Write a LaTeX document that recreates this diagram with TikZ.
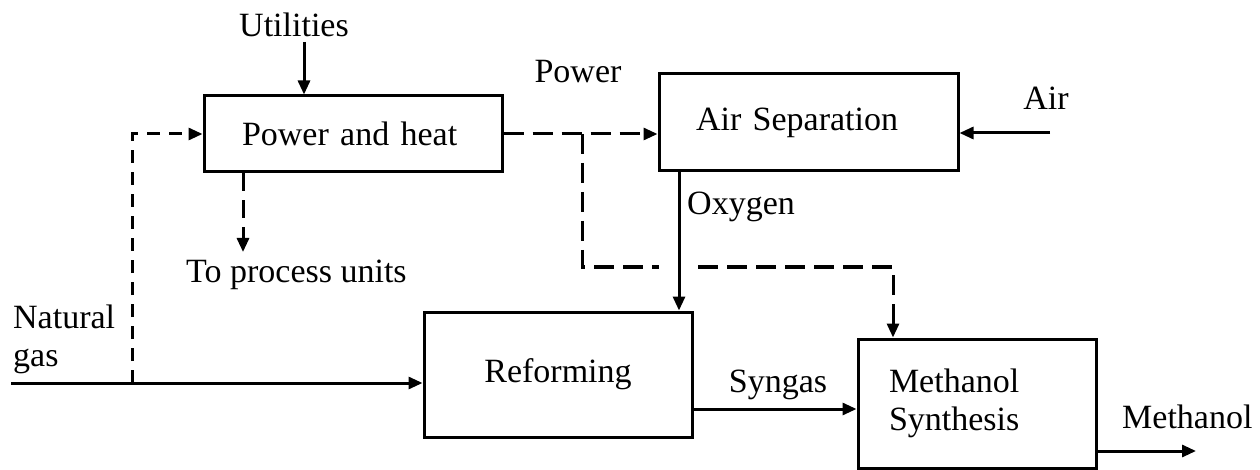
\documentclass[tikz,border=0pt]{standalone}
\usepackage{fontspec}
\setmainfont{Liberation Serif}
\usepackage{tikz}
\usetikzlibrary{arrows.meta,positioning,calc}
\definecolor{ink}{HTML}{000000}
\tikzset{
  unitbox/.style={
    rectangle, draw=ink, line width=3pt,
    inner sep=0pt, align=center,
    font=\fontsize{34}{38}\selectfont
  },
  streamlabel/.style={
    inner sep=0pt, text=ink,
    font=\fontsize{34}{38}\selectfont
  },
  flowarrow/.style={
    -{Triangle[length=14pt,width=12pt]}, line width=3pt, color=ink
  },
  energyarrow/.style={
    -{Triangle[length=14pt,width=12pt]}, line width=3pt, color=ink,
    dash pattern=on #1 off 9pt
  },
  energyarrow/.default=20pt,
}

\begin{document}
\begin{tikzpicture}[x=1pt, y=-1pt]
\useasboundingbox (0,0) rectangle (1260,470);

% ── process units ──
\node[unitbox, minimum width=298pt, minimum height=76pt,
      text width=222pt, align=left] (ph) at (353,134) {Power and heat};
\node[unitbox, minimum width=299pt, minimum height=97pt,
      text width=225pt, align=left] (asu) at (808.5,122.5) {Air Separation};
\node[unitbox, minimum width=268pt, minimum height=125pt] (ref) at (558,374.5) {Reforming};
\node[unitbox, minimum width=238pt, minimum height=129pt,
      text width=176pt, align=left] (meoh) at (977,403.5) {Methanol\\Synthesis};

% ── stream labels ──
\node[streamlabel, anchor=base] (utillbl) at (294,37) {Utilities};
\node[streamlabel, anchor=base] (powlbl) at (578,83) {Power};
\node[streamlabel, anchor=base] (airlbl) at (1046,110) {Air};
\node[streamlabel, anchor=base west] (oxlbl) at (687,215) {Oxygen};
\node[streamlabel, anchor=base west] (proclbl) at (186,282) {To process units};
\node[streamlabel, anchor=base west, align=left] (nglbl) at (13,366) {Natural\\gas};
\node[streamlabel, anchor=base] (synlbl) at (778,392) {Syngas};
\node[streamlabel, anchor=base west] (outlbl) at (1122,428) {Methanol};

% free ends and bends
\coordinate (utilin) at (304,42);
\coordinate (ngin) at (11,383);
\coordinate (fuelsplit) at (132,383);
\coordinate (heatout) at (243,252);
\coordinate (powsplit) at (582,134);
\coordinate (powbend) at (582,267);
\coordinate (airin) at (1050,133);
\coordinate (oxtop) at ([xshift=-129.5pt]asu.south);
\coordinate (meohin) at ([xshift=-84pt]meoh.north);
\coordinate (meohout) at (1196,451);

% ── material streams ──
\draw[flowarrow] (utilin) -- (utilin |- ph.north);
\draw[flowarrow] (ngin) -- (ngin -| ref.west);
\draw[flowarrow] (airin) -- (airin -| asu.east);
\draw[flowarrow] (oxtop) -- (oxtop |- ref.north);
\draw[flowarrow] ([yshift=-34.5pt]ref.east) -- ([yshift=-34.5pt]ref.east -| meoh.west);
\draw[flowarrow] (meohout -| meoh.east) -- (meohout);

% ── power / heat ──
\draw[energyarrow=13pt] (fuelsplit) |- (ph.west);
\draw[energyarrow=18pt] (heatout |- ph.south) -- (heatout);
\draw[energyarrow] (ph.east) -- (ph.east -| asu.west);
\draw[energyarrow] (powsplit) -- (powbend) -- ([xshift=-20pt]powbend -| oxtop)
  ([xshift=19pt]powbend -| oxtop) -| (meohin);

\end{tikzpicture}
\end{document}
